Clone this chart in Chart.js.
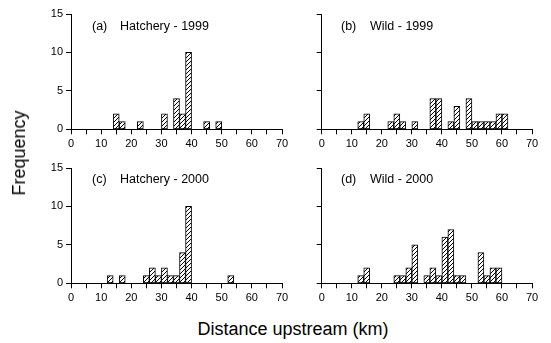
<!DOCTYPE html>
<html>
<head>
<meta charset="utf-8">
<script src="https://cdn.jsdelivr.net/npm/chart.js@4"></script>
<style>
  body { margin: 0; background: #fff; font-family: "Liberation Sans", Arial, sans-serif; }
  #wrap { position: relative; width: 551px; height: 343px; overflow: hidden; }
  canvas { position: absolute; }
  .lbl { position: absolute; color: #000; white-space: nowrap; line-height: 1; }
  .ptitle { font-size: 12.5px; transform: translateY(-50%); }
</style>
</head>
<body>
<div id="wrap">
  <canvas id="panelA" width="295" height="160" style="left:0;top:0"></canvas>
  <canvas id="panelB" width="295" height="160" style="left:250px;top:0"></canvas>
  <canvas id="panelC" width="295" height="160" style="left:0;top:154px"></canvas>
  <canvas id="panelD" width="295" height="160" style="left:250px;top:154px"></canvas>

  <div class="lbl ptitle" style="left:92px;top:26px">(a)</div>
  <div class="lbl ptitle" style="left:120px;top:26px">Hatchery - 1999</div>
  <div class="lbl ptitle" style="left:341px;top:26px">(b)</div>
  <div class="lbl ptitle" style="left:370px;top:26px">Wild - 1999</div>
  <div class="lbl ptitle" style="left:92px;top:179px">(c)</div>
  <div class="lbl ptitle" style="left:120px;top:179px">Hatchery - 2000</div>
  <div class="lbl ptitle" style="left:341px;top:179px">(d)</div>
  <div class="lbl ptitle" style="left:370px;top:179px">Wild - 2000</div>

  <div class="lbl" style="left:19px;top:153px;font-size:18px;transform:translate(-50%,-50%) rotate(-90deg)">Frequency</div>
  <div class="lbl" style="left:293px;top:329px;font-size:18px;transform:translate(-50%,-50%)">Distance upstream (km)</div>
</div>
<script>
// bin centres (km, 2 km bins) and counts
const hatchery1999Km = [15, 17, 23, 31, 35, 37, 39, 45, 49];
const hatchery1999N  = [2, 1, 1, 2, 4, 2, 10, 1, 1];

const wild1999Km = [13, 15, 23, 25, 27, 31, 37, 39, 43, 45, 49, 51, 53, 55, 57, 59, 61];
const wild1999N  = [1, 2, 1, 2, 1, 1, 4, 4, 1, 3, 4, 1, 1, 1, 1, 2, 2];

const hatchery2000Km = [13, 17, 25, 27, 29, 31, 33, 35, 37, 39, 53];
const hatchery2000N  = [1, 1, 1, 2, 1, 2, 1, 1, 4, 10, 1];

const wild2000Km = [13, 15, 25, 27, 29, 31, 35, 37, 39, 41, 43, 45, 47, 53, 55, 57, 59];
const wild2000N  = [1, 2, 1, 1, 2, 5, 1, 2, 1, 6, 7, 1, 1, 4, 1, 2, 2];

const xTicks = [0, 10, 20, 30, 40, 50, 60, 70];
const yTicks = [0, 5, 10, 15];

Chart.defaults.font.family = '"Liberation Sans", Arial, sans-serif';
Chart.defaults.color = '#000';

function hatchPattern() {
    var c = document.createElement('canvas');
    c.width = 4; c.height = 4;
    var g = c.getContext('2d');
    g.fillStyle = '#fff';
    g.fillRect(0, 0, 4, 4);
    g.strokeStyle = '#000';
    g.lineWidth = 1;
    g.beginPath();
    g.moveTo(-1, 5); g.lineTo(5, -1);
    g.moveTo(-1, 1); g.lineTo(1, -1);
    g.moveTo(3, 5); g.lineTo(5, 3);
    g.stroke();
    return g.createPattern(c, 'repeat');
}

function makePanel(id, km, counts, showYLabels) {
    var ctx = document.getElementById(id).getContext('2d');
    var pts = km.map((k, i) => ({ x: k, y: counts[i] }));
    return new Chart(ctx, {
        type: 'bar',
        data: {
            datasets: [{
                data: pts,
                backgroundColor: hatchPattern(),
                borderColor: '#000',
                borderWidth: 1,
                borderSkipped: false,
                barPercentage: 1,
                categoryPercentage: 1
            }]
        },
        options: {
            responsive: false,
            animation: false,
            events: [],
            layout: { padding: { top: 14, right: 13, left: 0, bottom: 0 } },
            plugins: { legend: { display: false }, tooltip: { enabled: false } },
            scales: {
                x: {
                    type: 'linear',
                    min: 0,
                    max: 70,
                    offset: false,
                    afterFit: s => { s.height = 30.7; },
                    border: { display: true, color: '#000', width: 1 },
                    grid: { drawOnChartArea: false, drawTicks: true, tickLength: 5, color: '#000', offset: false },
                    ticks: {
                        stepSize: 5,
                        autoSkip: false,
                        maxRotation: 0,
                        padding: 3,
                        font: { size: 11 },
                        callback: v => xTicks.includes(v) ? String(v) : ''
                    }
                },
                y: {
                    min: 0,
                    max: 15,
                    afterFit: s => { s.width = id === 'panelA' || id === 'panelC' ? 71 : 71.7; },
                    border: { display: true, color: '#000', width: 1 },
                    grid: { drawOnChartArea: false, drawTicks: true, tickLength: 5, color: '#000' },
                    ticks: {
                        stepSize: 5,
                        padding: 3,
                        font: { size: 11 },
                        callback: v => (showYLabels && yTicks.includes(v)) ? String(v) : ''
                    }
                }
            }
        }
    });
}

makePanel('panelA', hatchery1999Km, hatchery1999N, true);
makePanel('panelB', wild1999Km, wild1999N, false);
makePanel('panelC', hatchery2000Km, hatchery2000N, true);
makePanel('panelD', wild2000Km, wild2000N, false);
</script>
</body>
</html>
